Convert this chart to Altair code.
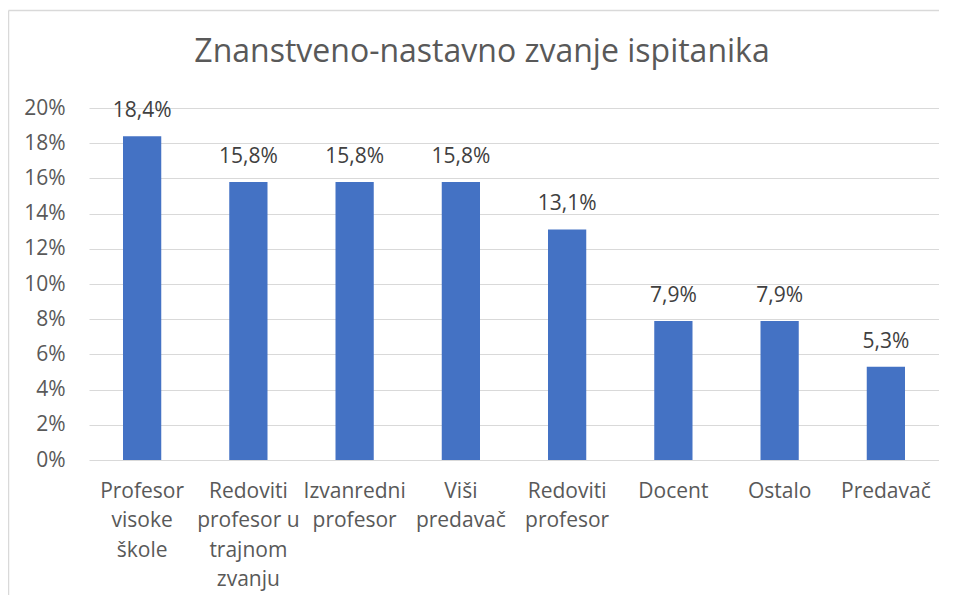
import altair as alt
import pandas as pd

categories = [
    "Profesor\nvisoke\nškole",
    "Redoviti\nprofesor u\ntrajnom\nzvanju",
    "Izvanredni\nprofesor",
    "Viši\npredavač",
    "Redoviti\nprofesor",
    "Docent",
    "Ostalo",
    "Predavač",
]
values = [18.4, 15.8, 15.8, 15.8, 13.1, 7.9, 7.9, 5.3]
y_ticks = [0, 2, 4, 6, 8, 10, 12, 14, 16, 18, 20]
title_text = "Znanstveno-nastavno zvanje ispitanika"

df = pd.DataFrame({
    "cat": categories,
    "val": values,
    "label": [f"{v:.1f}%".replace(".", ",") for v in values],
})

FONT = "Open Sans"
GREY = "#595959"
FS = 21

x_scale = alt.Scale(paddingInner=0.64, paddingOuter=0.32)
y_scale = alt.Scale(domain=[0, 20], nice=False)

x = alt.X("cat:N", sort=categories, title=None, scale=x_scale,
          axis=alt.Axis(labelAngle=0, domain=False, ticks=False, tickSize=0,
                        labelExpr="split(datum.value, '\\n')",
                        labelLineHeight=29.5, labelBaseline="alphabetic",
                        labelPadding=37, labelFontSize=FS, labelColor=GREY,
                        labelFont=FONT, labelLimit=200, labelOverlap=False))
y = alt.Y("val:Q", title=None, scale=y_scale,
          axis=alt.Axis(values=y_ticks, labelExpr="datum.value + '%'",
                        domain=False, ticks=False, tickSize=0,
                        labelPadding=24, labelFontSize=FS, labelColor=GREY,
                        labelFont=FONT, gridColor="#d9d9d9", gridWidth=1,
                        labelOverlap=False))

bars = alt.Chart(df).mark_bar(color="#4472C4").encode(x=x, y=y)
texts = alt.Chart(df).mark_text(baseline="alphabetic", dy=-19, fontSize=FS,
                                font=FONT, color="#404040").encode(
    x=x, y=y, text="label:N")

deco = pd.DataFrame({"t": [title_text]})
left_border = alt.Chart(deco).mark_rule(color="#d9d9d9", strokeWidth=1.5).encode(
    x=alt.value(-80.5), y=alt.value(-97.5), y2=alt.value(700))
top_border = alt.Chart(deco).mark_rule(color="#d9d9d9", strokeWidth=1.5).encode(
    x=alt.value(-80.5), x2=alt.value(850), y=alt.value(-97.5))
title = alt.Chart(deco).mark_text(
    fontSize=32, font=FONT, color=GREY, baseline="alphabetic", align="center").encode(
    x=alt.value(393), y=alt.value(-46), text="t:N")

chart = alt.layer(left_border, top_border, title, bars, texts).properties(
    width=850, height=352,
    autosize=alt.AutoSizeParams(type="none"),
    padding={"left": 81, "top": 100, "right": 0, "bottom": 135},
).configure_view(strokeWidth=0)

chart.save("out.html", embed_options={"renderer": "svg", "actions": False})
